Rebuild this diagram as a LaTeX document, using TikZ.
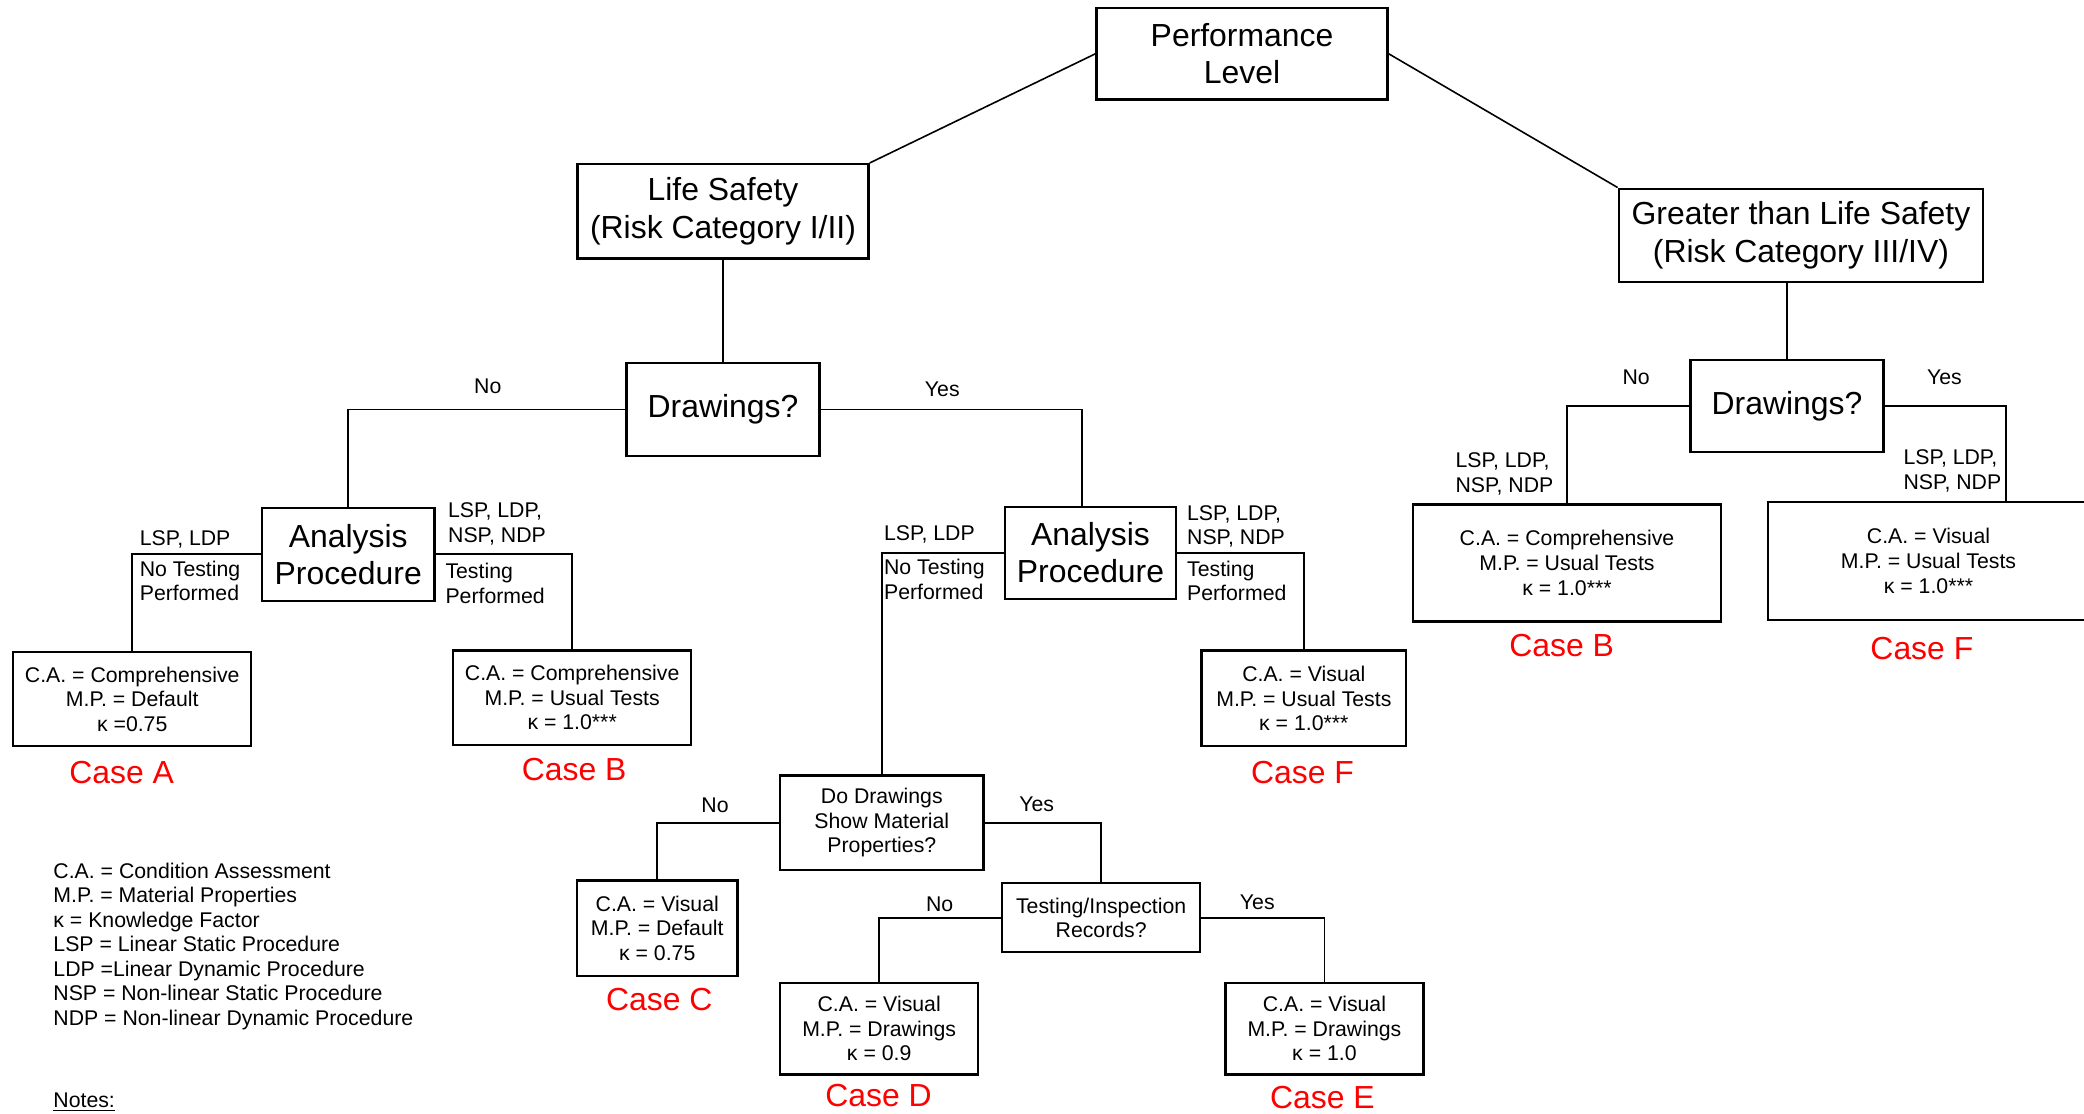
\documentclass[tikz,border=0pt]{standalone}
\usepackage{fontspec}
\setmainfont{Liberation Sans}
\begin{document}
\begin{tikzpicture}[x=1pt,y=-1pt,
  box/.style={draw, line width=1.8pt, inner sep=0pt, align=center},
  big/.style={font=\fontsize{24}{28}\selectfont},
  small/.style={font=\fontsize{16}{18.5}\selectfont},
  conn/.style={line width=1.2pt},
  lbl/.style={small, inner sep=0pt, align=left, anchor=west},
  tag/.style={small, inner sep=0pt},
  casetxt/.style={font=\fontsize{24}{28}\selectfont, text=red, inner sep=0pt}]
\useasboundingbox (0,0) rectangle (1568,838);

% boxes
\node[box,big,minimum width=219pt,minimum height=69pt] (perf) at (934.5,40.5) {Performance\\Level};
\node[box,big,minimum width=219pt,minimum height=71pt] (life) at (544,159) {Life Safety\\(Risk Category I/II)};
\node[box,big,minimum width=274pt,minimum height=70pt] (great) at (1355,177) {Greater than Life Safety\\(Risk Category III/IV)};
\node[box,big,minimum width=145pt,minimum height=70pt] (dr1) at (544,308) {Drawings?};
\node[box,big,minimum width=130pt,minimum height=70pt] (an1) at (262,417) {Analysis\\Procedure};
\node[box,big,minimum width=129pt,minimum height=69pt] (an2) at (820.5,416) {Analysis\\Procedure};
\node[box,small,minimum width=179pt,minimum height=71pt] (caseA) at (99.5,526) {C.A. = Comprehensive\\M.P. = Default\\κ =0.75};
\node[box,small,minimum width=179pt,minimum height=71pt] (caseB1) at (430.5,525) {C.A. = Comprehensive\\M.P. = Usual Tests\\κ = 1.0***};
\node[box,small,minimum width=154pt,minimum height=72pt] (caseF1) at (981,525.5) {C.A. = Visual\\M.P. = Usual Tests\\κ = 1.0***};
\node[box,small,minimum width=153pt,minimum height=71pt] (dod) at (663.5,619) {Do Drawings\\Show Material\\Properties?};
\node[box,small,minimum width=121pt,minimum height=72pt] (caseC) at (494.5,698.5) {C.A. = Visual\\M.P. = Default\\κ = 0.75};
\node[box,small,minimum width=149pt,minimum height=52pt] (ti) at (828.5,690.5) {Testing/Inspection\\Records?};
\node[box,small,minimum width=149pt,minimum height=69pt] (caseD) at (661.5,774) {C.A. = Visual\\M.P. = Drawings\\κ = 0.9};
\node[box,small,minimum width=149pt,minimum height=69pt] (caseE) at (996.5,774) {C.A. = Visual\\M.P. = Drawings\\κ = 1.0};
\node[box,big,minimum width=145pt,minimum height=69pt] (dr2) at (1344.5,305.5) {Drawings?};
\node[box,small,minimum width=232pt,minimum height=88pt] (caseB2) at (1179,423.5) {C.A. = Comprehensive\\M.P. = Usual Tests\\κ = 1.0***};
\node[box,small,minimum width=242pt,minimum height=89pt] (caseF2) at (1451,422) {C.A. = Visual\\M.P. = Usual Tests\\κ = 1.0***};

% connectors
\draw[conn] (perf.west) -- (life.north east);
\draw[conn] (perf.east) -- (great.north west);
\draw[conn] (life.south) -- (dr1.north);
\draw[conn] (dr2.north) -- (dr2.north |- great.south);
\draw[conn] (dr1.west) -| (an1.north);
\coordinate (an2top) at ([xshift=59pt]an2.north west);
\draw[conn] (dr1.east) -| (an2top);
\draw[conn] (an1.west) -| (caseA.north);
\draw[conn] (an1.east) -| (caseB1.north);
\draw[conn] (an2.west) -| (dod.north);
\draw[conn] (an2.east) -| (caseF1.north);
\draw[conn] (dod.west) -| (caseC.north);
\draw[conn] (dod.east) -| (ti.north);
\draw[conn] (ti.west) -| (caseD.north);
\draw[conn] (ti.east) -| (caseE.north);
\draw[conn] (dr2.west) -| (caseB2.north);
\coordinate (f2top) at ([xshift=180pt]caseF2.north west);
\draw[conn] (dr2.east) -| (f2top);

% yes/no tags
\node[tag] (t1) at (367,291) {No};
\node[tag] (t2) at (709,293) {Yes};
\node[tag] (t3) at (1231,284) {No};
\node[tag] (t4) at (1463,284) {Yes};
\node[tag] (t5) at (538,606) {No};
\node[tag] (t6) at (780,605) {Yes};
\node[tag] (t7) at (707,680) {No};
\node[tag] (t8) at (946,679) {Yes};

% branch labels
\node[lbl] (l1) at (105,406) {LSP, LDP};
\node[lbl] (l2) at (105,437) {No Testing\\Performed};
\node[lbl] (l3) at (337,394) {LSP, LDP,\\NSP, NDP};
\node[lbl] (l4) at (335,439) {Testing\\Performed};
\node[lbl] (l5) at (665,402) {LSP, LDP};
\node[lbl] (l6) at (665,436) {No Testing\\Performed};
\node[lbl] (l7) at (893,396) {LSP, LDP,\\NSP, NDP};
\node[lbl] (l8) at (893,437) {Testing\\Performed};
\node[lbl] (l9) at (1095,356.5) {LSP, LDP,\\NSP, NDP};
\node[lbl] (l10) at (1432,354.5) {LSP, LDP,\\NSP, NDP};

% case tags
\node[casetxt] (cA) at (91.5,581) {Case A};
\node[casetxt] (cB1) at (432,579) {Case B};
\node[casetxt] (cF1) at (980,581) {Case F};
\node[casetxt] (cC) at (496,752) {Case C};
\node[casetxt] (cD) at (661,824) {Case D};
\node[casetxt] (cE) at (995,826) {Case E};
\node[casetxt] (cB2) at (1175,486) {Case B};
\node[casetxt] (cF2) at (1446,488) {Case F};

% legend
\node[lbl] (legend) at (40,712) {C.A. = Condition Assessment\\M.P. = Material Properties\\κ = Knowledge Factor\\LSP = Linear Static Procedure\\LDP =Linear Dynamic Procedure\\NSP = Non-linear Static Procedure\\NDP = Non-linear Dynamic Procedure};
\node[lbl] (notes) at (40,829) {\underline{Notes:}};
\end{tikzpicture}
\end{document}
